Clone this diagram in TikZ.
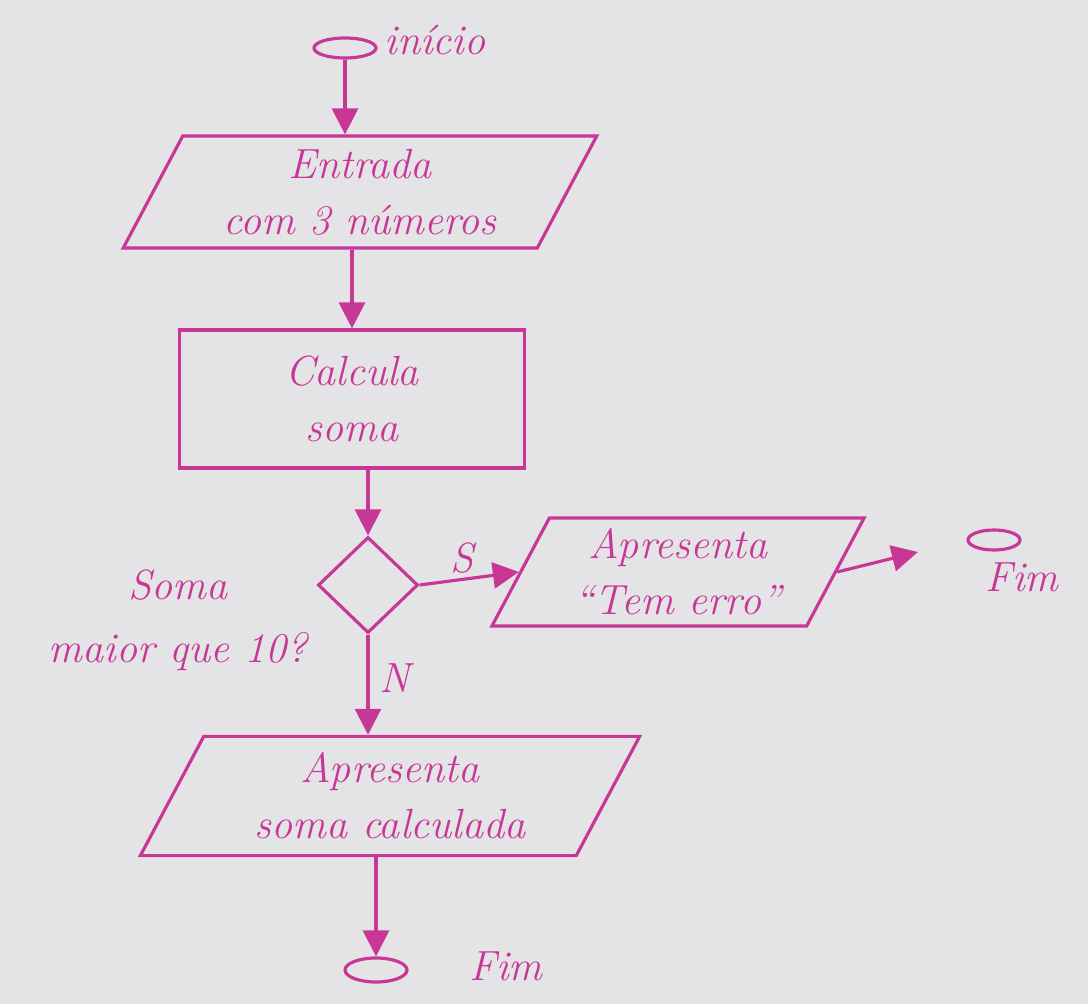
\documentclass[tikz,border=0pt]{standalone}
\usepackage{tikz}
\usetikzlibrary{arrows.meta,positioning,shapes.geometric}
\definecolor{pen}{RGB}{200,55,150}
\definecolor{paper}{RGB}{228,228,231}

\begin{document}
\begin{tikzpicture}[
  x=0.1mm, y=-0.1mm,
  every node/.style={text=pen, font=\large\itshape},
  term/.style={draw=pen, ellipse, line width=0.9pt, inner sep=0pt},
  io/.style={draw=pen, trapezium, trapezium left angle=62, trapezium right angle=118,
    line width=0.9pt, align=center, inner sep=0pt},
  proc/.style={draw=pen, rectangle, line width=0.9pt, align=center},
  dec/.style={draw=pen, diamond, line width=0.9pt, inner sep=0pt},
  arr/.style={-{Triangle[length=2.6mm,width=2.6mm]}, draw=pen, fill=pen, line width=0.9pt}
]
% background and frame
\fill[paper] (0,0) rectangle (1088,1004);
\useasboundingbox (0,0) rectangle (1088,1004);

% shapes
\node[term, minimum width=6.2mm, minimum height=2mm] (ini) at (345,48) {};
\node[io, minimum width=42.5mm, minimum height=11.2mm] (ent) at (360,192) {Entrada\\[2pt]com 3 n\'umeros};
\node[proc, minimum width=34.5mm, minimum height=13.8mm] (calc) at (352,399) {Calcula\\[2pt]soma};
\node[dec, minimum width=10mm, minimum height=9.6mm] (test) at (368,585) {};
\node[io, minimum width=32mm, minimum height=10.8mm] (erro) at (678,572) {Apresenta\\[2pt]``Tem erro''};
\node[term, minimum width=5.2mm, minimum height=2mm] (fim1) at (994,540) {};
\node[io, minimum width=50mm, minimum height=11.4mm] (res) at (390,796) {Apresenta\\[2pt]soma calculada};
\node[term, minimum width=6.2mm, minimum height=2.4mm] (fim2) at (376,970) {};

% labels
\node (lini) at (435,40) {in\'icio};
\node[align=center] (lq) at (178,620) {Soma\\[4pt]maior que 10?};
\node (ls) at (462,558) {S};
\node (ln) at (395,678) {N};
\node (lf1) at (1022,577) {Fim};
\node (lf2) at (506,966) {Fim};

% connectors
\draw[arr] (ini.south) -- (ini.south |- ent.north);
\draw[arr] (calc.north |- ent.south) -- (calc.north);
\draw[arr] (test.north |- calc.south) -- (test.north);
\draw[arr] (test.east) -- (erro.west);
\draw[arr, shorten >=5mm] (erro.east) -- (fim1.west);
\draw[arr] (test.south) -- (test.south |- res.north);
\draw[arr] (fim2.north |- res.south) -- (fim2.north);
\end{tikzpicture}
\end{document}
